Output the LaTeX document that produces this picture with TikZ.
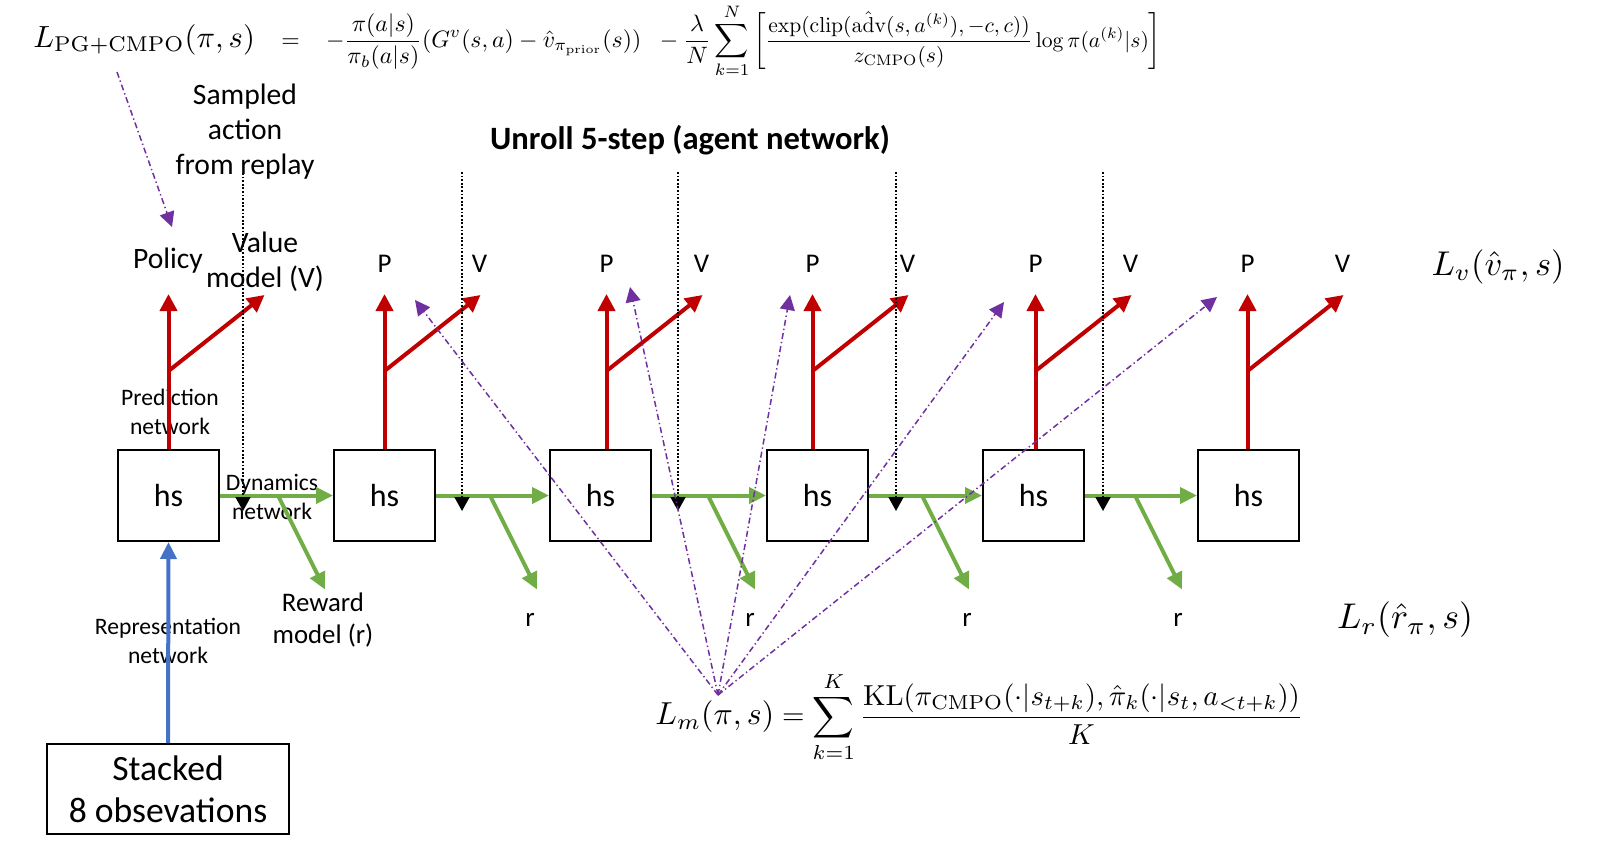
\documentclass[tikz,border=0pt]{standalone}
\usepackage{amsmath}
\usepackage[no-math]{fontspec}
\setmainfont{Carlito}
\usetikzlibrary{arrows.meta,calc}
\definecolor{myred}{HTML}{C00000}
\definecolor{mygreen}{HTML}{70AD47}
\definecolor{myblue}{HTML}{4472C4}
\definecolor{mypurple}{HTML}{7030A0}
\begin{document}
\begin{tikzpicture}[x=0.5pt,y=-0.5pt,
  hsbox/.style={draw=black,line width=1pt,minimum width=50.5pt,minimum height=45.5pt,inner sep=0pt,font=\fontsize{16}{19}\selectfont},
  redarr/.style={draw=myred,line width=2pt,-{Triangle[length=8.5pt,width=8.5pt]}},
  grarr/.style={draw=mygreen,line width=2pt,-{Triangle[length=8.5pt,width=8pt]}},
  bluearr/.style={draw=myblue,line width=2pt,-{Triangle[length=8.5pt,width=8pt]}},
  dotarr/.style={draw=black,line width=0.9pt,dash pattern=on 0.9pt off 0.9pt,-{Triangle[length=7pt,width=7.5pt]}},
  purarr/.style={draw=mypurple,line width=0.75pt,dash pattern=on 3pt off 1.5pt on 0.7pt off 1.5pt,-{Triangle[length=7.5pt,width=7.5pt]}},
  biglbl/.style={font=\fontsize{14.8}{17.5}\selectfont,align=center,inner sep=0pt},
  smllbl/.style={font=\fontsize{11.8}{14.3}\selectfont,align=center,inner sep=0pt},
  pvlbl/.style={font=\fontsize{13.5}{16}\selectfont,inner sep=0pt}
]
\useasboundingbox (0,0) rectangle (1600,857);

% formulas
\node[anchor=west,inner sep=0pt] (lpg) at (33,41) {\resizebox{564pt}{!}{$\displaystyle \scalebox{1.29}{$\displaystyle L_{\mathrm{PG+CMPO}}(\pi,s)$}\;\;\;=\;\;\;-\frac{\pi(a|s)}{\pi_b(a|s)}(G^v(s,a)-\hat v_{\pi_{\mathrm{prior}}}(s))\;\;-\frac{\lambda}{N}\sum_{k=1}^{N}\left[\scalebox{0.91}{$\displaystyle\frac{\exp(\mathrm{clip}(\mathrm{a\hat{d}v}(s,a^{(k)}),-c,c))}{z_{\mathrm{CMPO}}(s)}\log\pi(a^{(k)}|s)$}\right]$}};
\node[anchor=west,inner sep=0pt] (lm) at (655,717) {\resizebox{324pt}{!}{$\displaystyle \scalebox{1.1}{$L_m(\pi,s)$}=\sum_{k=1}^{K}\frac{\mathrm{KL}(\pi_{\mathrm{CMPO}}(\cdot|s_{t+k}),\hat\pi_k(\cdot|s_t,a_{<t+k}))}{K}$}};
\node[inner sep=0pt] (lv) at (1498,267) {\resizebox{66.5pt}{!}{$L_v(\hat v_\pi,s)$}};
\node[inner sep=0pt] (lr) at (1405,620) {\resizebox{68pt}{!}{$L_r(\hat r_\pi,s)$}};

% title and labels
\node[font=\fontsize{16.3}{19}\selectfont\bfseries,inner sep=0pt] (title) at (690,140) {Unroll 5-step (agent network)};
\node[biglbl] (samp) at (245,132) {Sampled\\action\\from replay};
\node[biglbl] (policy) at (168,261) {Policy};
\node[biglbl] (value) at (265,262) {Value\\model (V)};
\node[smllbl] (pred) at (170,412) {Prediction\\network};
\node[smllbl] (dyn) at (272,497) {Dynamics\\network};
\node[biglbl,font=\fontsize{13.4}{16}\selectfont] (rew) at (323,620) {Reward\\model (r)};
\node[smllbl] (repr) at (168,641) {Representation\\network};
\node[draw=black,line width=1pt,minimum width=121pt,minimum height=45pt,inner sep=0pt,align=center,font=\fontsize{17.8}{21}\selectfont] (obs) at (168,789) {Stacked\\8 obsevations};

% boxes
\foreach \i/\x in {1/168.5,2/384.5,3/600.5,4/817.5,5/1033.5,6/1248.5}
  \node[hsbox] (h\i) at (\x,495.5) {hs};

% red prediction arrows and P/V labels
\foreach \i/\o in {1/0,2/0,3/6,4/-5,5/2,6/-1}{
  \draw[redarr] ($(h\i.north)+(\o,0)$) -- ++(0,-155);
  \draw[redarr] ($(h\i.north)+(\o,-78)$) -- ++(96,-76);
}
\foreach \i/\o in {2/0,3/6,4/-5,5/2,6/-1}{
  \node[pvlbl] (p\i) at ($(h\i.north)+(\o,-185)$) {P};
  \node[pvlbl] (v\i) at ($(h\i.north)+(\o+95,-185)$) {V};
}

% green dynamics arrows
\foreach \i/\j in {1/2,2/3,3/4,4/5,5/6}
  \draw[grarr] (h\i.east) -- (h\j.west);
\foreach \i/\o in {1/58,2/54,3/56,4/53,5/50}
  \draw[grarr] ($(h\i.east)+(\o,0)$) -- ++(47,94);
\foreach \i/\x in {2/530,3/750,4/967,5/1178}
  \node[pvlbl] (r\i) at (\x,620) {r};

% blue representation arrow
\draw[bluearr] (obs.north) -- (h1.south);

% dotted sampled action arrows
\foreach \i/\x/\t in {1/243/173,2/462/172,3/678/172,4/896/172,5/1103/172}{
  \coordinate (dt\i) at (\x,\t);
  \coordinate (db\i) at (\x,511);
  \draw[dotarr] (dt\i) -- (db\i);
}

% purple KL arrows
\coordinate (m) at (718,695);
\foreach \i/\x/\y in {1/415/300,2/630/287,3/790/295,4/1004/302,5/1217/297}{
  \coordinate (k\i) at (\x,\y);
  \draw[purarr] (m) -- (k\i);
}
\coordinate (pg) at (117,72);
\coordinate (pgt) at (172,227);
\draw[purarr] (pg) -- (pgt);
\end{tikzpicture}
\end{document}
